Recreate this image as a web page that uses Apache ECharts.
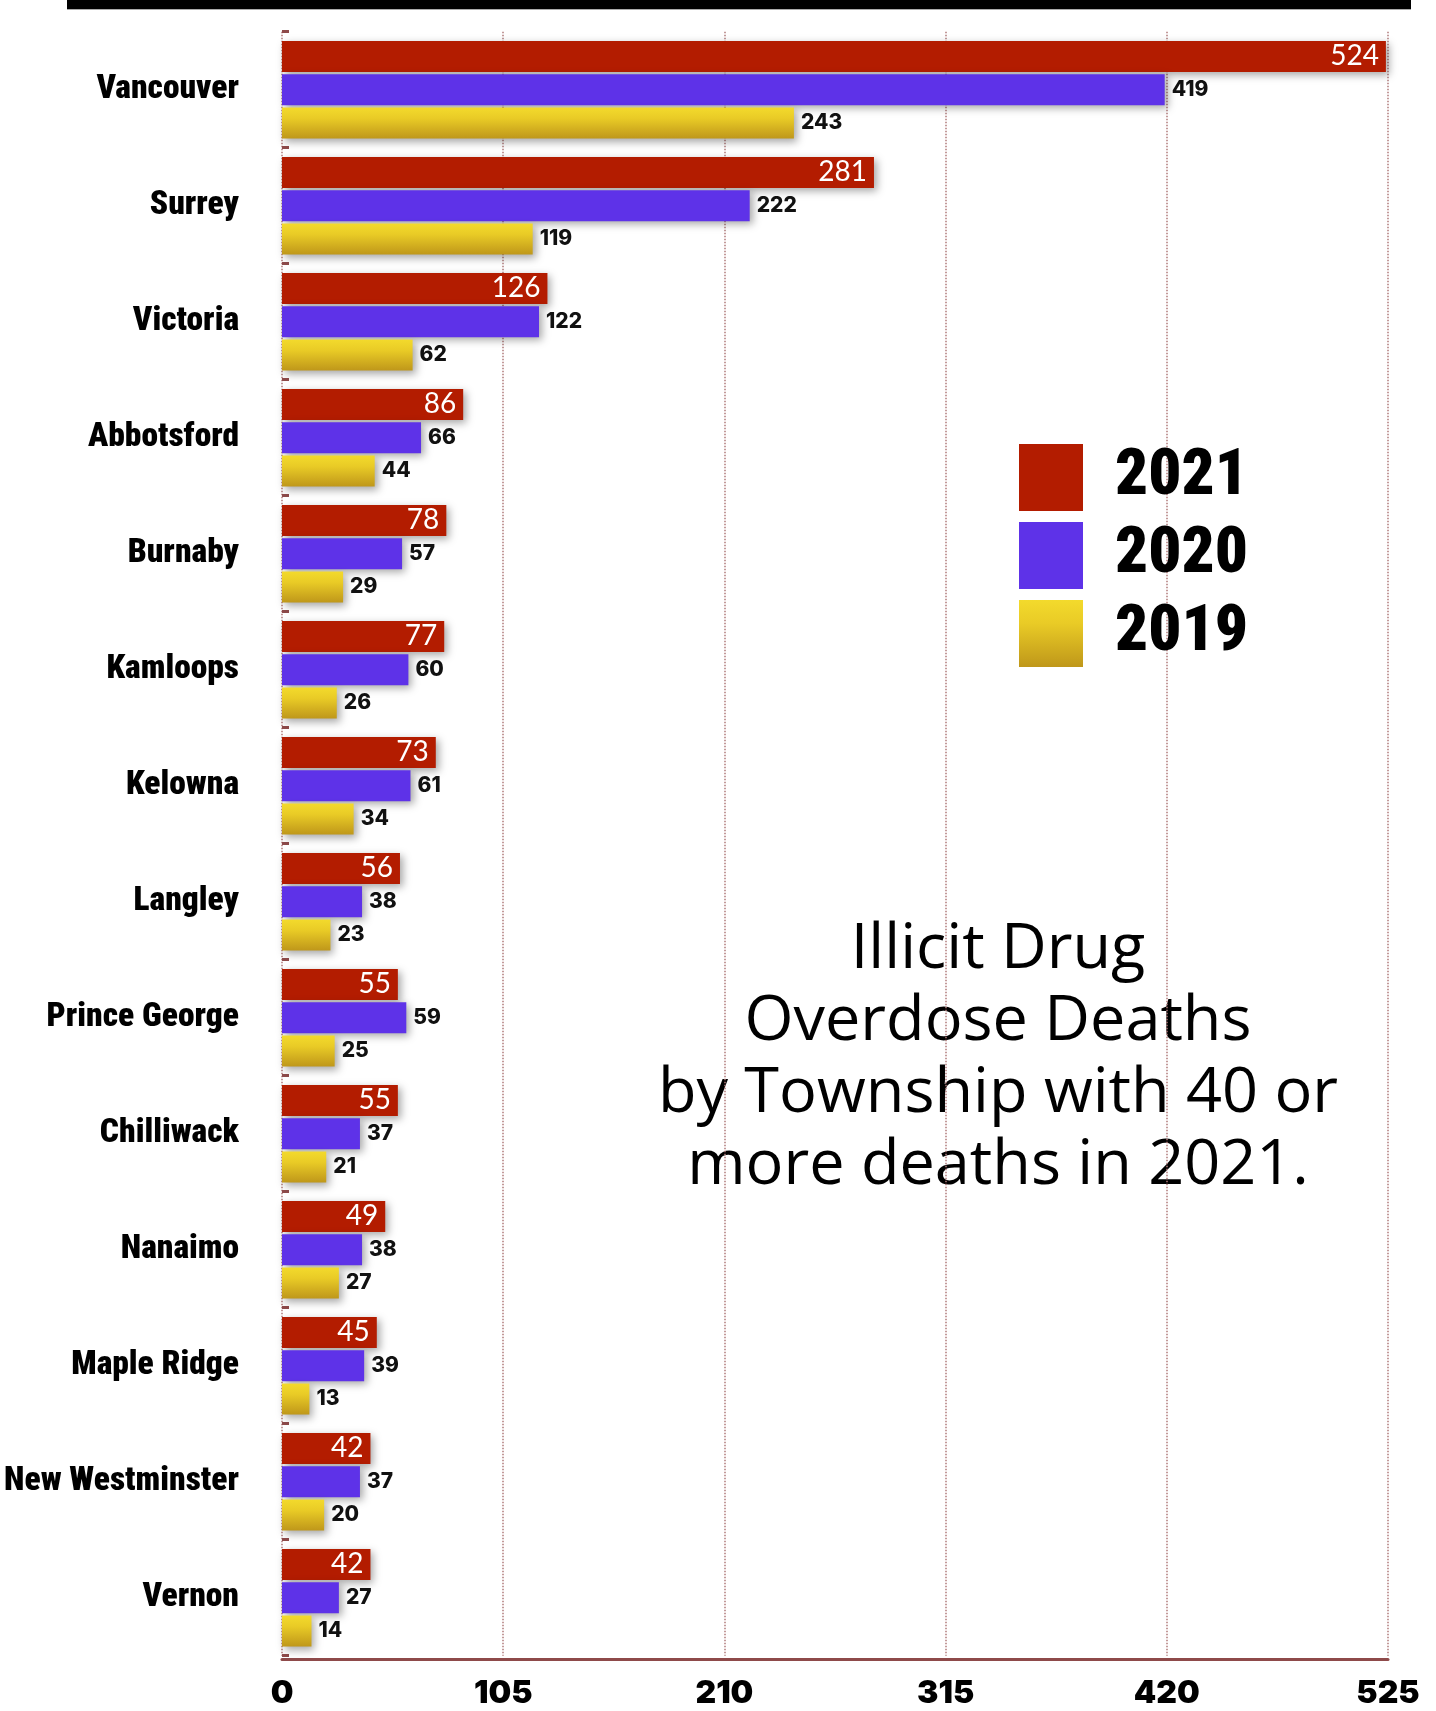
<!DOCTYPE html>
<html>
<head>
<meta charset="utf-8">
<script src="https://cdn.jsdelivr.net/npm/echarts@6/dist/echarts.min.js"></script>
<style>
  html, body { margin: 0; padding: 0; background: #ffffff; }
  #chart { width: 1436px; height: 1711px; }
</style>
</head>
<body>
<div id="chart"></div>
<script>
// Townships with 40 or more illicit drug overdose deaths in 2021
const townships = ['Vancouver', 'Surrey', 'Victoria', 'Abbotsford', 'Burnaby', 'Kamloops', 'Kelowna',
  'Langley', 'Prince George', 'Chilliwack', 'Nanaimo', 'Maple Ridge', 'New Westminster', 'Vernon'];
const deaths2021 = [524, 281, 126, 86, 78, 77, 73, 56, 55, 55, 49, 45, 42, 42];
const deaths2020 = [419, 222, 122, 66, 57, 60, 61, 38, 59, 37, 38, 39, 37, 27];
const deaths2019 = [243, 119, 62, 44, 29, 26, 34, 23, 25, 21, 27, 13, 20, 14];
const seriesNames = ['2021', '2020', '2019'];
const axisMax = 525;
const axisStep = 105;

const condensedFamily = 'Roboto, "Open Sans", sans-serif';
const numberFamily = 'Inter, "Open Sans", sans-serif';

const chart = echarts.init(document.getElementById('chart'), null, { renderer: 'canvas' });

const barShadow = {
  shadowBlur: 8,
  shadowColor: 'rgba(0,0,0,0.35)',
  shadowOffsetX: 3,
  shadowOffsetY: 3
};

const gold = new echarts.graphic.LinearGradient(0, 0, 0, 1, [
  { offset: 0, color: '#f3da2c' },
  { offset: 0.35, color: '#e9cb26' },
  { offset: 1, color: '#bf971a' }
]);

const outsideLabel = {
  show: true,
  position: 'right',
  distance: 7,
  color: '#111',
  fontFamily: numberFamily,
  fontWeight: 800,
  fontSize: 21
};

chart.setOption({
  animation: false,
  backgroundColor: '#ffffff',
  grid: { left: 282, top: 31.7, width: 1106, height: 1624, containLabel: false, outerBoundsMode: 'none' },
  legend: {
    orient: 'vertical',
    left: 1019,
    top: 444,
    padding: 0,
    itemWidth: 64,
    itemHeight: 67,
    itemGap: 11,
    icon: 'rect',
    data: seriesNames,
    textStyle: {
      fontFamily: condensedFamily,
      fontStyle: 'condensed',
      fontWeight: 900,
      fontSize: 65,
      color: '#000',
      lineHeight: 47,
      padding: [20, 0, 0, 27]
    }
  },
  xAxis: {
    type: 'value',
    min: 0,
    max: axisMax,
    interval: axisStep,
    offset: 3.5,
    axisLine: { show: true, lineStyle: { color: '#8e4a4a', width: 3 } },
    axisTick: { show: false },
    axisLabel: {
      margin: 18,
      color: '#000',
      fontFamily: numberFamily,
      fontWeight: 900,
      fontSize: 32
    },
    splitLine: { show: true, lineStyle: { color: '#b07a7a', width: 1.5, type: 'dotted' } }
  },
  yAxis: {
    type: 'category',
    inverse: true,
    data: townships,
    axisLine: { show: false },
    axisTick: { show: true, inside: true, length: 7, lineStyle: { color: '#8e4a4a', width: 3 } },
    axisLabel: {
      margin: 43,
      color: '#000',
      fontFamily: condensedFamily,
      fontStyle: 'condensed',
      fontWeight: 900,
      fontSize: 33.5
    }
  },
  series: [
    {
      name: seriesNames[0],
      type: 'bar',
      data: deaths2021,
      barWidth: 31,
      barGap: '7.5%',
      itemStyle: Object.assign({ color: '#b31c00' }, barShadow),
      label: {
        show: true,
        position: 'insideRight',
        distance: 7,
        color: '#fff',
        fontFamily: 'Lato, "Open Sans", sans-serif',
        fontWeight: 'normal',
        fontSize: 28
      }
    },
    {
      name: seriesNames[1],
      type: 'bar',
      data: deaths2020,
      barWidth: 31,
      barGap: '7.5%',
      itemStyle: Object.assign({ color: '#5e32e8' }, barShadow),
      label: outsideLabel
    },
    {
      name: seriesNames[2],
      type: 'bar',
      data: deaths2019,
      barWidth: 31,
      barGap: '7.5%',
      itemStyle: Object.assign({ color: gold }, barShadow),
      label: outsideLabel
    }
  ],
  graphic: [
    { type: 'rect', shape: { x: 67, y: 0, width: 1344, height: 9 }, style: { fill: '#000' }, silent: true },
    { type: 'rect', shape: { x: 67, y: 9, width: 1344, height: 1 }, style: { fill: '#aaa' }, silent: true },
    {
      type: 'text',
      x: 998,
      y: 914,
      silent: true,
      style: {
        text: 'Illicit Drug\nOverdose Deaths\nby Township with 40 or\nmore deaths in 2021.',
        fill: '#000',
        font: '400 63px "Open Sans", sans-serif',
        lineHeight: 72,
        align: 'center',
        verticalAlign: 'top'
      }
    }
  ]
});
</script>
</body>
</html>
